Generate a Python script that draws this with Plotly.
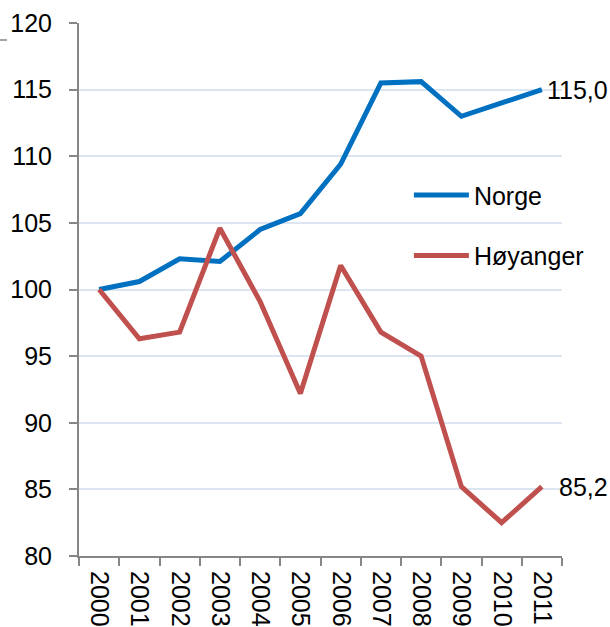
import plotly.graph_objects as go

years = ["2000", "2001", "2002", "2003", "2004", "2005",
         "2006", "2007", "2008", "2009", "2010", "2011"]
norge = [100.0, 100.6, 102.3, 102.1, 104.5, 105.7,
         109.4, 115.5, 115.6, 113.0, 114.0, 115.0]
hoyanger = [100.0, 96.3, 96.8, 104.6, 99.1, 92.2,
            101.8, 96.8, 95.0, 85.2, 82.5, 85.2]

BLUE = "#0070C0"
RED = "#C0504D"
AXIS = "#868686"
GRID = "#DCE6F2"
FONT = "Liberation Sans, Arial, sans-serif"


def fmt(v):
    return f"{v:.1f}".replace(".", ",")


fig = go.Figure()
fig.add_trace(go.Scatter(x=years, y=norge, name="Norge", mode="lines",
                         line=dict(color=BLUE, width=5), legendgroup="a"))
fig.add_trace(go.Scatter(x=years, y=hoyanger, name="Høyanger", mode="lines",
                         line=dict(color=RED, width=5), legendgroup="b"))

# end-point value labels (category axis: position by index)
last = len(years) - 1
fig.add_annotation(x=last, y=norge[-1], text=fmt(norge[-1]), showarrow=False,
                   xref="x", yref="y",
                   xanchor="left", yanchor="middle", xshift=3,
                   font=dict(size=25, color="black", family=FONT))
fig.add_annotation(x=last, y=hoyanger[-1], text=fmt(hoyanger[-1]), showarrow=False,
                   xref="x", yref="y",
                   xanchor="left", yanchor="middle", xshift=15,
                   font=dict(size=25, color="black", family=FONT))

# small stray dash at the top left
fig.add_shape(type="line", xref="paper", yref="paper",
              x0=-79 / 483, x1=-72 / 483, y0=516 / 533, y1=516 / 533,
              line=dict(color=AXIS, width=1.5))

fig.update_layout(
    width=610, height=627,
    margin=dict(l=79, r=48, t=23, b=71, autoexpand=False),
    paper_bgcolor="white", plot_bgcolor="white",
    font=dict(family=FONT, size=25, color="black"),
    showlegend=True,
    legend=dict(x=0.683, y=0.72, xanchor="left", yanchor="top",
                bgcolor="rgba(0,0,0,0)", tracegroupgap=25,
                traceorder="grouped", itemwidth=55,
                font=dict(size=25, family=FONT, color="black")),
    xaxis=dict(type="category", tickson="boundaries", ticks="outside",
               ticklen=8, tickcolor=AXIS, tickwidth=1.5,
               showline=True, linecolor=AXIS, linewidth=2,
               showgrid=False, tickangle=90, range=[-0.5, 11.5],
               ticklabelstandoff=8, automargin=False,
               tickfont=dict(size=25, family=FONT, color="black")),
    yaxis=dict(range=[80, 120], dtick=5, ticks="outside", ticklen=8,
               tickcolor=AXIS, tickwidth=1.5,
               showline=True, linecolor=AXIS, linewidth=2,
               showgrid=True, gridcolor=GRID, gridwidth=1.5,
               zeroline=False, ticklabelstandoff=12, automargin=False,
               tickfont=dict(size=25, family=FONT, color="black")),
)

fig.write_html("out.html")
